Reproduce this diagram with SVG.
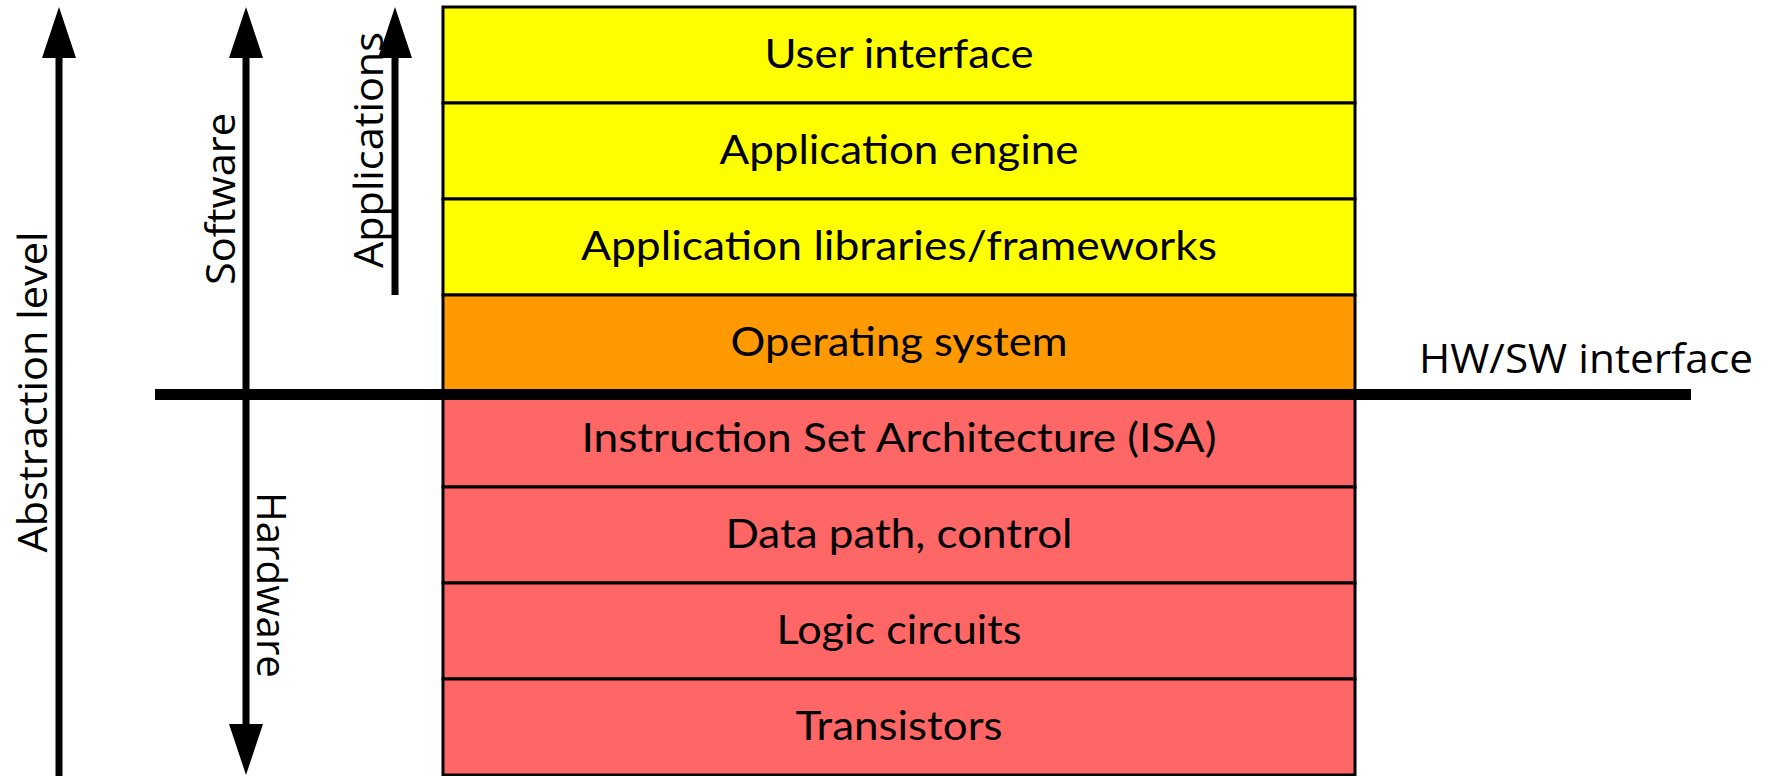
<svg xmlns="http://www.w3.org/2000/svg" width="1771" height="776" viewBox="0 0 1771 776">
<style>
.row{stroke:#000;stroke-width:3}
.sw{fill:#FFFF00}
.os{fill:#FF9900}
.hw{fill:#FF6666}
.bt{font-family:Lato,"Liberation Sans",sans-serif;font-size:40px;fill:#000;text-anchor:middle}
.lb{font-family:"Open Sans","Liberation Sans",sans-serif;font-size:41px;fill:#000}
.ln{stroke:#000;stroke-width:7;fill:none}
</style>
<defs>
<polygon id="head" points="-17,51 17,51 0,0" fill="#000"/>
</defs>
<rect width="1771" height="776" fill="#fff"/>
<g id="stack">
<g id="n-ui"><rect class="row sw" x="443" y="7" width="912" height="96"/><text class="bt" x="899" y="68" textLength="269" lengthAdjust="spacingAndGlyphs">User interface</text></g>
<g id="n-engine"><rect class="row sw" x="443" y="103" width="912" height="96"/><text class="bt" x="899" y="164" textLength="359" lengthAdjust="spacingAndGlyphs">Application engine</text></g>
<g id="n-libs"><rect class="row sw" x="443" y="199" width="912" height="96"/><text class="bt" x="899" y="260" textLength="636" lengthAdjust="spacingAndGlyphs">Application libraries/frameworks</text></g>
<g id="n-os"><rect class="row os" x="443" y="295" width="912" height="96"/><text class="bt" x="899" y="356" textLength="337" lengthAdjust="spacingAndGlyphs">Operating system</text></g>
<g id="n-isa"><rect class="row hw" x="443" y="391" width="912" height="96"/><text class="bt" x="899" y="452" textLength="635" lengthAdjust="spacingAndGlyphs">Instruction Set Architecture (ISA)</text></g>
<g id="n-datapath"><rect class="row hw" x="443" y="487" width="912" height="96"/><text class="bt" x="899" y="548" textLength="347" lengthAdjust="spacingAndGlyphs">Data path, control</text></g>
<g id="n-logic"><rect class="row hw" x="443" y="583" width="912" height="96"/><text class="bt" x="899" y="644" textLength="245" lengthAdjust="spacingAndGlyphs">Logic circuits</text></g>
<g id="n-transistors"><rect class="row hw" x="443" y="679" width="912" height="96"/><text class="bt" x="899" y="740" textLength="207" lengthAdjust="spacingAndGlyphs">Transistors</text></g>
</g>
<g id="connectors">
<rect id="hwsw-line" x="155" y="389" width="1536" height="11" fill="#000"/>
<line class="ln" x1="59" y1="50" x2="59" y2="776"/>
<use href="#head" x="59" y="7"/>
<line class="ln" x1="246" y1="50" x2="246" y2="734"/>
<use href="#head" x="246" y="7"/>
<use href="#head" transform="translate(246,775) rotate(180)"/>
<line class="ln" x1="395" y1="50" x2="395" y2="295"/>
<use href="#head" x="395" y="7"/>
</g>
<g id="labels">
<text class="lb" transform="translate(47,392) rotate(-90)" text-anchor="middle" textLength="321" lengthAdjust="spacingAndGlyphs">Abstraction level</text>
<text class="lb" transform="translate(234.5,199) rotate(-90)" text-anchor="middle" textLength="172" lengthAdjust="spacingAndGlyphs">Software</text>
<text class="lb" transform="translate(383,150) rotate(-90)" text-anchor="middle" textLength="236" lengthAdjust="spacingAndGlyphs">Applications</text>
<text class="lb" transform="translate(257,585) rotate(90)" text-anchor="middle" textLength="186" lengthAdjust="spacingAndGlyphs">Hardware</text>
<text class="lb" x="1419" y="373" textLength="334" lengthAdjust="spacingAndGlyphs">HW/SW interface</text>
</g>
</svg>
